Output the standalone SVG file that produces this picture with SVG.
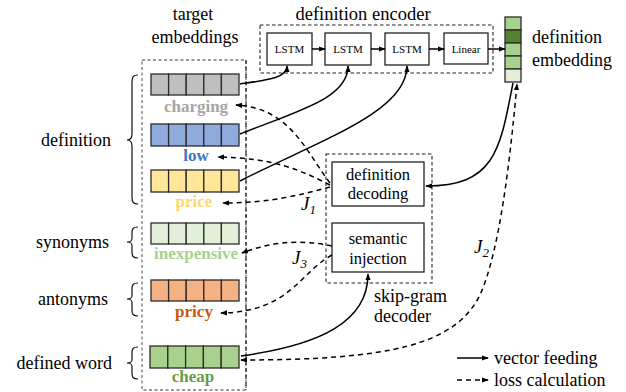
<svg xmlns="http://www.w3.org/2000/svg" width="626" height="392" viewBox="0 0 626 392" style="font-family:'Liberation Serif','DejaVu Serif',serif">
  <style>
    text { font-family: 'Liberation Serif', 'DejaVu Serif', serif; fill: #000; }
    .lbl { font-size: 18px; }
    .box-txt { font-size: 16.5px; text-anchor: middle; }
    .small { font-size: 11px; text-anchor: middle; }
    .word { font-size: 17px; font-weight: bold; text-anchor: middle; }
    .j { font-size: 19px; font-style: italic; }
    .jsub { font-size: 13px; }
    .cell { stroke: #2b2b2b; stroke-width: 1.3; }
    .node { fill: #fff; stroke: #222; stroke-width: 1.3; }
    .frame { fill: none; stroke: #222; stroke-width: 1.1; stroke-dasharray: 3.5 2.5; }
    .brace { fill: none; stroke: #111; stroke-width: 1.2; }
    .feed { fill: none; stroke: #000; stroke-width: 1.5; }
    .loss { fill: none; stroke: #000; stroke-width: 1.5; stroke-dasharray: 5 4; }
  </style>
  <defs>
    <marker id="ah" viewBox="0 0 8 6" refX="7" refY="3" markerWidth="7" markerHeight="5.5" markerUnits="userSpaceOnUse" orient="auto-start-reverse">
      <path d="M0,0 L8,3 L0,6 z" fill="#000"/>
    </marker>
  </defs>

  <!-- headings -->
  <text class="lbl" x="193" y="20" text-anchor="middle">target</text>
  <text class="lbl" x="195" y="43" text-anchor="middle">embeddings</text>
  <text class="lbl" x="363" y="20" text-anchor="middle" style="font-size:18.5px">definition encoder</text>
  <text class="lbl" x="532" y="43">definition</text>
  <text class="lbl" x="532" y="66">embedding</text>

  <!-- side labels with braces -->
  <g id="side-labels">
    <text class="lbl" x="111" y="146" text-anchor="end">definition</text>
    <text class="lbl" x="109" y="248" text-anchor="end">synonyms</text>
    <text class="lbl" x="108" y="305" text-anchor="end">antonyms</text>
    <text class="lbl" x="112" y="369" text-anchor="end">defined word</text>
    <path class="brace" d="M138,75 C133,75 132,77 132,82 L132,134 C132,138 131,140 127,140 C131,140 132,142 132,146 L132,197 C132,202 133,204 138,204"/>
    <path class="brace" d="M138,227 C133,227 132,229 132,233 L132,238 C132,241 131,242 127,242 C131,242 132,243 132,246 L132,252 C132,256 133,258 138,258"/>
    <path class="brace" d="M138,283 C133,283 132,285 132,289 L132,295 C132,298 131,299 127,299 C131,299 132,300 132,303 L132,310 C132,314 133,316 138,316"/>
    <path class="brace" d="M138,347 C133,347 132,349 132,353 L132,359 C132,362 131,363 127,363 C131,363 132,364 132,367 L132,373 C132,377 133,379 138,379"/>
  </g>

  <!-- target embeddings frame -->
  <g id="target-embeddings">
    <rect x="142" y="60" width="104" height="330" fill="none" stroke="#777" stroke-width="1.3" stroke-dasharray="3 2.5"/>
    <line x1="246" y1="60" x2="246" y2="390" stroke="#111" stroke-width="1.1" stroke-dasharray="4 3"/>
  </g>

  <g id="vec-charging">
    <g class="cell" fill="#bfbfbf">
      <rect x="151" y="74" width="17.6" height="21"/><rect x="168.6" y="74" width="17.6" height="21"/><rect x="186.2" y="74" width="17.6" height="21"/><rect x="203.8" y="74" width="17.6" height="21"/><rect x="221.4" y="74" width="17.6" height="21"/>
    </g>
    <text class="word" x="196" y="112" style="fill:#a6a6a6">charging</text>
  </g>
  <g id="vec-low">
    <g class="cell" fill="#8faadc">
      <rect x="151" y="124" width="17.6" height="22"/><rect x="168.6" y="124" width="17.6" height="22"/><rect x="186.2" y="124" width="17.6" height="22"/><rect x="203.8" y="124" width="17.6" height="22"/><rect x="221.4" y="124" width="17.6" height="22"/>
    </g>
    <text class="word" x="196" y="161" style="fill:#3f77bd">low</text>
  </g>
  <g id="vec-price">
    <g class="cell" fill="#ffe699">
      <rect x="151" y="170" width="17.6" height="22"/><rect x="168.6" y="170" width="17.6" height="22"/><rect x="186.2" y="170" width="17.6" height="22"/><rect x="203.8" y="170" width="17.6" height="22"/><rect x="221.4" y="170" width="17.6" height="22"/>
    </g>
    <text class="word" x="194" y="207" style="fill:#ffd966">price</text>
  </g>
  <g id="vec-inexpensive">
    <g class="cell" fill="#e2f0d9">
      <rect x="151" y="223" width="17.6" height="21"/><rect x="168.6" y="223" width="17.6" height="21"/><rect x="186.2" y="223" width="17.6" height="21"/><rect x="203.8" y="223" width="17.6" height="21"/><rect x="221.4" y="223" width="17.6" height="21"/>
    </g>
    <text class="word" x="196" y="259" style="fill:#a9d18e">inexpensive</text>
  </g>
  <g id="vec-pricy">
    <g class="cell" fill="#f4b183">
      <rect x="151" y="280" width="17.6" height="21"/><rect x="168.6" y="280" width="17.6" height="21"/><rect x="186.2" y="280" width="17.6" height="21"/><rect x="203.8" y="280" width="17.6" height="21"/><rect x="221.4" y="280" width="17.6" height="21"/>
    </g>
    <text class="word" x="194" y="317" style="fill:#c55a11">pricy</text>
  </g>
  <g id="vec-cheap">
    <g class="cell" fill="#a9d18e">
      <rect x="150" y="346" width="17.8" height="22"/><rect x="167.8" y="346" width="17.8" height="22"/><rect x="185.6" y="346" width="17.8" height="22"/><rect x="203.4" y="346" width="17.8" height="22"/><rect x="221.2" y="346" width="17.8" height="22"/>
    </g>
    <text class="word" x="193" y="382" style="fill:#6a9e45">cheap</text>
  </g>

  <!-- definition encoder -->
  <g id="definition-encoder">
    <rect class="frame" x="260" y="25" width="233" height="48"/>
  </g>
  <g id="lstm-1"><rect class="node" x="267" y="33" width="45" height="32"/><text class="small" x="289.5" y="53">LSTM</text></g>
  <g id="lstm-2"><rect class="node" x="325" y="33" width="46" height="32"/><text class="small" x="348" y="53">LSTM</text></g>
  <g id="lstm-3"><rect class="node" x="385" y="33" width="44" height="32"/><text class="small" x="407" y="53">LSTM</text></g>
  <g id="linear"><rect class="node" x="444" y="33" width="44" height="31"/><text class="small" x="466" y="53">Linear</text></g>

  <!-- definition embedding -->
  <g id="definition-embedding" class="cell">
    <rect x="505" y="17" width="16" height="13" fill="#a9d18e"/>
    <rect x="505" y="30" width="16" height="13" fill="#548235"/>
    <rect x="505" y="43" width="16" height="13" fill="#a9d18e"/>
    <rect x="505" y="56" width="16" height="13" fill="#a9d18e"/>
    <rect x="505" y="69" width="16" height="13" fill="#e2f0d9"/>
  </g>

  <!-- skip-gram decoder -->
  <g id="skip-gram-decoder">
    <rect class="frame" x="326" y="154" width="106" height="129"/>
    <text class="lbl" x="374" y="302">skip-gram</text>
    <text class="lbl" x="374" y="322">decoder</text>
  </g>
  <g id="definition-decoding">
    <rect class="node" x="332" y="162" width="92" height="44"/>
    <text class="box-txt" x="378" y="180">definition</text>
    <text class="box-txt" x="378" y="199">decoding</text>
  </g>
  <g id="semantic-injection">
    <rect class="node" x="332" y="223" width="92" height="49"/>
    <text class="box-txt" x="378" y="244">semantic</text>
    <text class="box-txt" x="378" y="264">injection</text>
  </g>

  <!-- connectors -->
  <g id="connectors">
    <!-- encoder chain -->
    <line class="feed" x1="312" y1="49" x2="325" y2="49" marker-end="url(#ah)"/>
    <line class="feed" x1="371" y1="49" x2="385" y2="49" marker-end="url(#ah)"/>
    <line class="feed" x1="429" y1="49" x2="444" y2="49" marker-end="url(#ah)"/>
    <line class="feed" x1="488" y1="49" x2="505" y2="49" marker-end="url(#ah)"/>
    <!-- definition words into the encoder -->
    <path class="feed" d="M240,84 C268,80 287,78 287,66" marker-end="url(#ah)"/>
    <path class="feed" d="M240,134 C300,110 348,98 348,66" marker-end="url(#ah)"/>
    <path class="feed" d="M240,181 C320,140 407,112 407,66" marker-end="url(#ah)"/>
    <!-- definition embedding to decoder -->
    <path class="feed" d="M513,83 C500,150 495,186 426,186" marker-end="url(#ah)"/>
    <!-- defined word to semantic injection -->
    <path class="feed" d="M241,356 C320,345 368,322 368,274" marker-end="url(#ah)"/>
    <!-- J1 losses -->
    <path class="loss" d="M330,183 C305,150 290,108 236,105" marker-end="url(#ah)"/>
    <path class="loss" d="M330,185 C300,170 275,158 218,157" marker-end="url(#ah)"/>
    <path class="loss" d="M330,187 C300,195 270,203 223,203" marker-end="url(#ah)"/>
    <!-- J3 losses -->
    <path class="loss" d="M332,246 C300,239 270,242 242,253" marker-end="url(#ah)"/>
    <path class="loss" d="M332,255 C300,272 290,312 221,313" marker-end="url(#ah)"/>
    <!-- J2 loss -->
    <path class="loss" d="M241,360 C390,360 455,345 480,295 C500,250 510,160 517,84" marker-start="url(#ah)" marker-end="url(#ah)"/>
  </g>

  <!-- loss labels -->
  <text class="j" x="301" y="210">J<tspan class="jsub" dy="4">1</tspan></text>
  <text class="j" x="292" y="264">J<tspan class="jsub" dy="4">3</tspan></text>
  <text class="j" x="474" y="253">J<tspan class="jsub" dy="4">2</tspan></text>

  <!-- legend -->
  <g id="legend">
    <line class="feed" x1="457" y1="358" x2="488" y2="358" marker-end="url(#ah)"/>
    <text class="lbl" x="494" y="364">vector feeding</text>
    <line class="loss" x1="457" y1="380" x2="488" y2="380" stroke-dasharray="4 3.5" marker-end="url(#ah)"/>
    <text class="lbl" x="494" y="386">loss calculation</text>
  </g>
</svg>
